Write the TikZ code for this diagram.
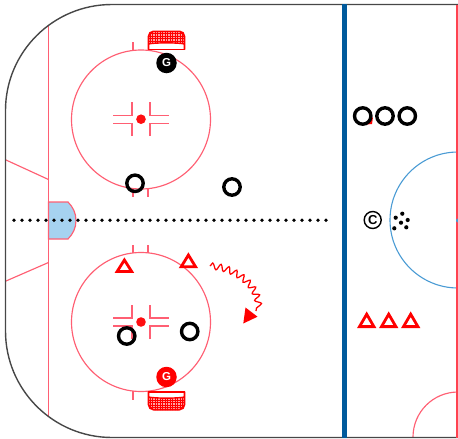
\documentclass[tikz,border=0pt]{standalone}
\usepackage{fontspec}
\setmainfont{Liberation Sans}
\usetikzlibrary{decorations.pathmorphing}
\definecolor{rinkred}{HTML}{FF5F73}
\definecolor{puckred}{HTML}{FF0000}
\definecolor{bluel}{HTML}{005A9C}
\definecolor{creaseb}{HTML}{A6D2F0}
\definecolor{centerb}{HTML}{4A9BD4}
\tikzset{
  x=1pt,y=-1pt,
  rink/.style={draw=rinkred,line width=1.15pt},
  crossline/.style={draw=rinkred,line width=1.4pt},
  ring/.style={circle,draw=black,line width=3.4pt,minimum size=16.4pt,inner sep=0pt,fill=none},
  goalie/.style={circle,minimum size=20.5pt,inner sep=0pt,text=white,font=\bfseries\fontsize{11.5}{11.5}\selectfont},
  tri/.style={draw=puckred,line width=2.8pt,miter limit=10,line join=miter},
  pk/.style={circle,fill=black,minimum size=4.2pt,inner sep=0pt},
  goalpic/.pic={
    \begin{scope}
      \clip[rounded corners=5pt] (-18,19) -- (-18,0.5) -- (18,0.5) -- (18,19) -- cycle;
      \fill[puckred!35] (-18,0) rectangle (18,13);
      \foreach \i in {-16.5,-14,...,18} \draw[puckred,line width=.5pt] (\i,0) -- (\i,13);
      \foreach \j in {3,5.5,8,10.5} \draw[puckred,line width=.5pt] (-18,\j) -- (18,\j);
      \fill[white] (-18,13.5) .. controls (-12,12) and (12,12) .. (18,13.5) -- (18,19) -- (-18,19) -- cycle;
      \draw[puckred,line width=1.4pt] (-18,13.5) .. controls (-12,12) and (12,12) .. (18,13.5);
    \end{scope}
    \draw[puckred,line width=1.6pt,rounded corners=5pt,line join=round] (-18,19) -- (-18,0.8) -- (18,0.8) -- (18,19);
    \draw[puckred,line width=1.6pt] (-18.8,18.8) -- (18.8,18.8);
  },
  cross/.pic={
    \draw[crossline] (-9,-17) -- (-9,-4) -- (-28,-4);
    \draw[crossline] (-9,17) -- (-9,4) -- (-28,4);
    \draw[crossline] (9,-17) -- (9,-4) -- (28,-4);
    \draw[crossline] (9,17) -- (9,4) -- (28,4);
    \fill[puckred!85!rinkred] (0,0) circle (4.8);
  }
}
\begin{document}
\begin{tikzpicture}
\useasboundingbox (0,0) rectangle (458,439);
% centre-ice and zone markings
\draw[draw=centerb,line width=1.1pt] (458,152) arc[start angle=90,end angle=270,x radius=68,y radius=-68];
\draw[rink] (458,392) arc[start angle=90,end angle=180,x radius=45,y radius=-45];
% goal line and hash lines
\draw[rink] (48.5,26) -- (48.5,416);
\draw[rink] (6,160) -- (48.5,179.5);
\draw[rink] (6,281) -- (48.5,262.5);
% crease
\draw[rink,fill=creaseb] (48.5,202) -- (68,202) .. controls (73,207) and (76,213) .. (76,220.5) .. controls (76,228) and (73,234) .. (68,239) -- (48.5,239) -- cycle;
% face-off circles
\draw[rink] (141,119.5) circle (69.5);
\draw[rink] (141,322) circle (69.5);
\draw[rink] (133,42) -- (133,50) (133,189) -- (133,197) (148,189) -- (148,197);
\draw[rink] (133,245) -- (133,253) (148,245) -- (148,253) (133,391) -- (133,400);
\pic at (141,119.2) {cross};
\pic at (141,322) {cross};
% rink outline
\draw[draw=black!72,line width=1.4pt] (458,4.5) -- (112,4.5) arc[start angle=90,end angle=180,x radius=106.5,y radius=-106] -- (5.5,331) arc[start angle=180,end angle=270,x radius=106.5,y radius=-106.5] -- (458,437.5);
\draw[draw=rinkred!70!red,line width=1.5pt] (457,4.5) -- (457,437.5);
\fill[centerb] (458,220.5) circle (2);
% blue line
\draw[bluel,line width=5pt] (344,4) -- (344,438);
% dotted line
\draw[black,line width=3.7pt,line cap=round,dash pattern=on 0pt off 8pt] (14,220.3) -- (329,220.3);
% goals
\pic at (166.5,30.5) {goalpic};
\pic[yscale=-1] at (166.5,410.5) {goalpic};
% goalies
\node[goalie,fill=black] (g1) at (166.5,63) {G};
\node[goalie,fill=puckred] (g2) at (166.5,377) {G};
% black players
\node[ring] (p1) at (135,183.3) {};
\node[ring] (p2) at (232,187) {};
\node[ring] (p3) at (126.7,336) {};
\node[ring] (p4) at (189.7,331.5) {};
\fill[puckred] (366,124.5) -- (373,117) -- (372,124) -- cycle;
\node[ring] (p5) at (362.7,116) {};
\node[ring] (p6) at (385,116) {};
\node[ring] (p7) at (407.3,116) {};
% red triangles
\draw[tri] (124.4,260) -- (131.6,271.4) -- (117.2,271.4) -- cycle;
\draw[tri] (188.4,255) -- (195.6,266.8) -- (181.2,266.8) -- cycle;
\draw[tri] (366.7,314.2) -- (373.9,326.6) -- (359.5,326.6) -- cycle;
\draw[tri] (388.7,314.2) -- (395.9,326.6) -- (381.5,326.6) -- cycle;
\draw[tri] (410.7,314.2) -- (417.9,326.6) -- (403.5,326.6) -- cycle;
% skating path
\coordinate (s0) at (210,266);
\coordinate (s1) at (256,311);
\draw[puckred,line width=1.25pt,decorate,decoration={snake,segment length=8pt,amplitude=3.2pt,post length=0pt}] (s0) .. controls (236,268) and (260,288) .. (s1);
\fill[puckred] (243.3,323.5) -- (245.5,307.5) -- (257.5,316.7) -- cycle;
% coach and pucks
\node[circle,draw=black,line width=1.4pt,minimum size=17pt,inner sep=0pt,font=\bfseries\fontsize{13}{13}\selectfont] (coach) at (372.7,220) {C};
\node[pk] (d1) at (395.7,217.7) {};
\node[pk] (d2) at (402.3,213.7) {};
\node[pk] (d3) at (407.7,220) {};
\node[pk] (d4) at (401,222.7) {};
\node[pk] (d5) at (406.3,227.3) {};
\node[pk] (d6) at (394.3,228.3) {};
\end{tikzpicture}
\end{document}
